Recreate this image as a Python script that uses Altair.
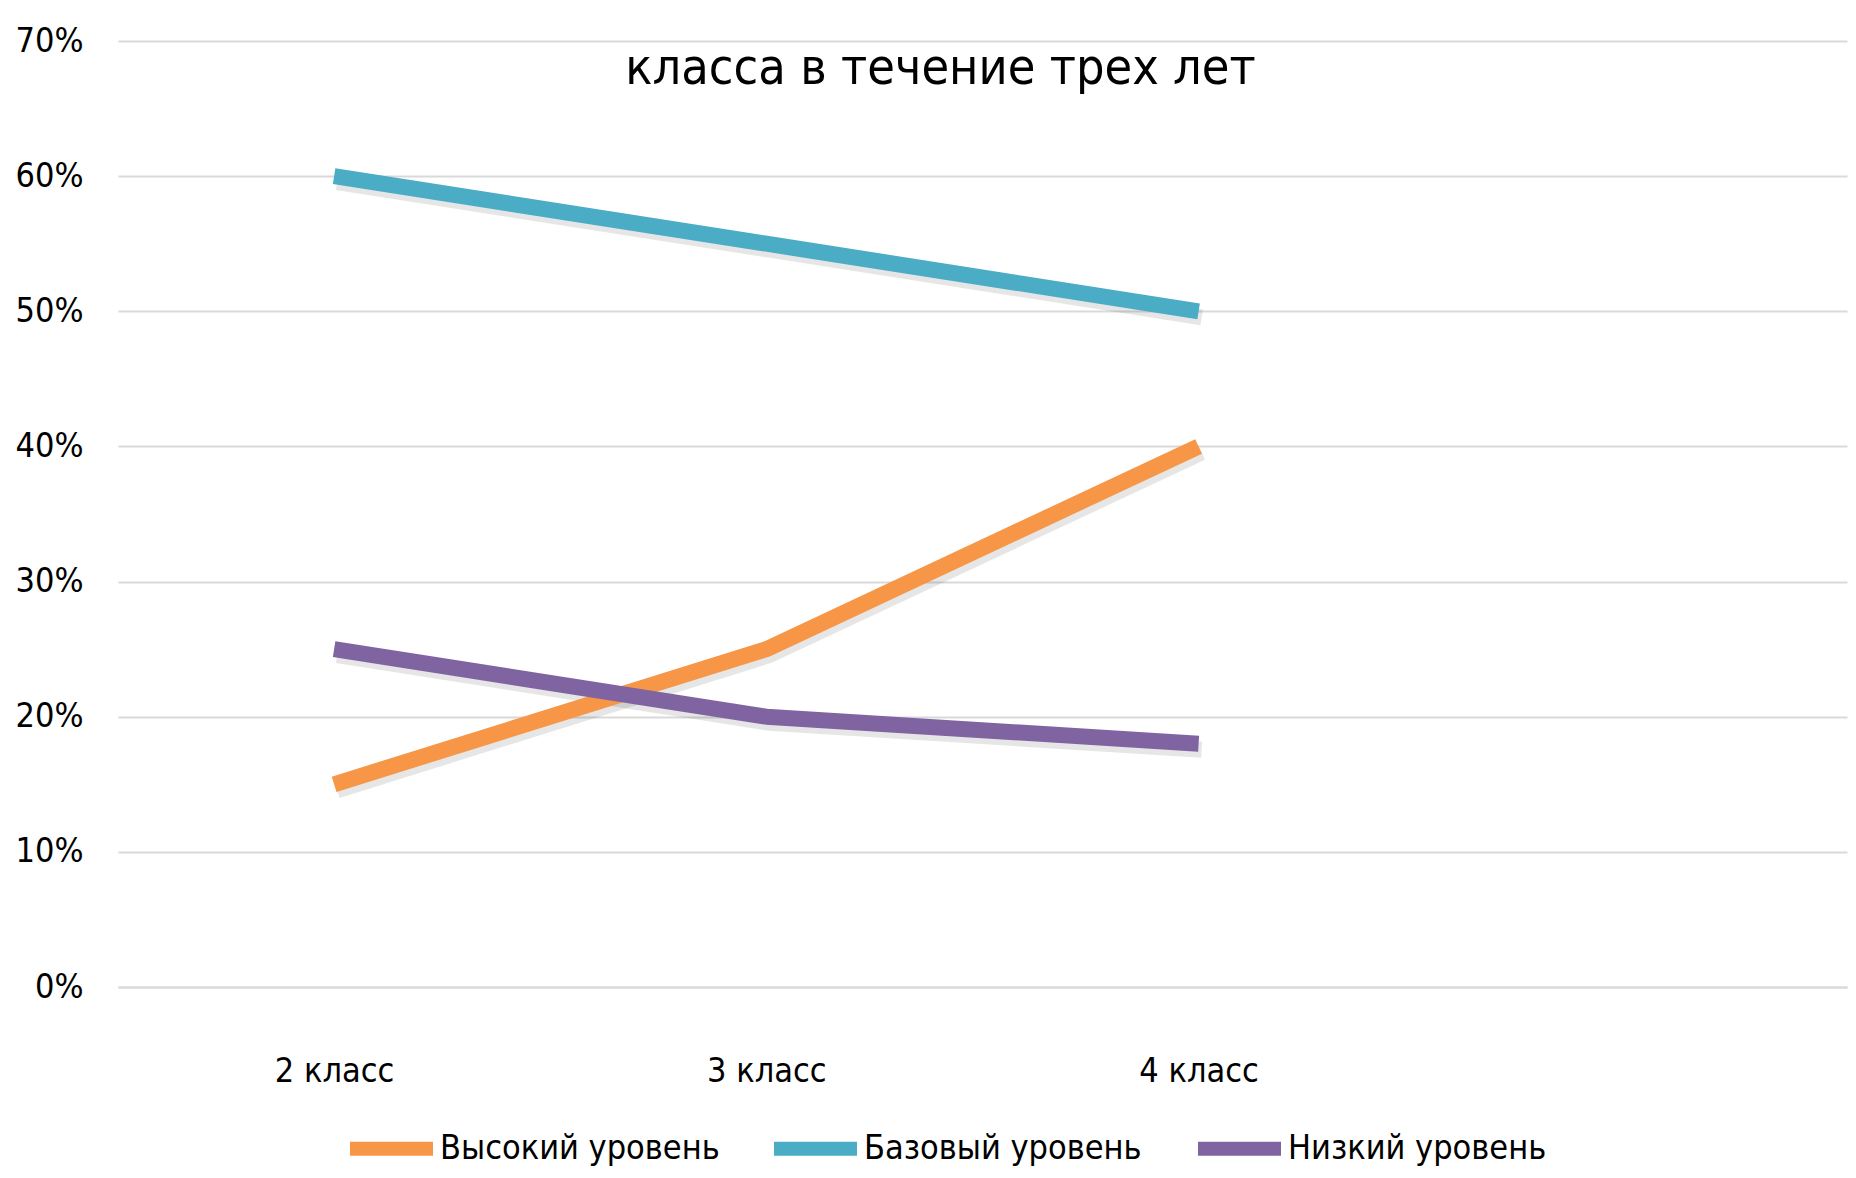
import altair as alt
import pandas as pd

categories = ["2 класс", "3 класс", "4 класс", " "]
series_names = ["Высокий уровень", "Базовый уровень", "Низкий уровень"]
high_values = [0.15, 0.25, 0.40]
base_values = [0.60, 0.55, 0.50]
low_values = [0.25, 0.20, 0.18]
y_ticks = [0, 0.1, 0.2, 0.3, 0.4, 0.5, 0.6, 0.7]
colors = ["#F79646", "#4BACC6", "#8064A2"]
title_text = "класса в течение трех лет"

rows = []
for name, vals in zip(series_names, [high_values, base_values, low_values]):
    for cat, v in zip(categories[:3], vals):
        rows.append({"cat": cat, "series": name, "value": v})
df = pd.DataFrame(rows)

FONT = "DejaVu Sans Condensed, Liberation Sans Narrow, sans-serif"
FS = 34

x_enc = alt.X("cat:N", scale=alt.Scale(domain=categories, paddingInner=0, paddingOuter=0),
              sort=categories,
              axis=alt.Axis(title=None, labelAngle=0, ticks=False, grid=False,
                            domain=True, domainColor="#D9D9D9", domainWidth=2,
                            labelPadding=67, labelFontSize=FS, labelFont=FONT,
                            labelColor="#000000"))
y_enc = alt.Y("value:Q", scale=alt.Scale(domain=[0, 0.7], nice=False),
              axis=alt.Axis(title=None, values=y_ticks, format=".0%", ticks=False,
                            domain=False, grid=True, gridColor="#D9D9D9", gridWidth=2,
                            labelPadding=35, labelFontSize=FS, labelFont=FONT,
                            labelColor="#000000", minExtent=110, maxExtent=110))

shadow = alt.Chart(df).mark_line(strokeWidth=16, color="#555555", opacity=0.15,
                                 xOffset=3, yOffset=6, strokeCap="butt").encode(
    x=x_enc, y=y_enc, detail="series:N")

lines = alt.Chart(df).mark_line(strokeWidth=16, strokeCap="butt", strokeJoin="round").encode(
    x=x_enc, y=y_enc,
    color=alt.Color("series:N", scale=alt.Scale(domain=series_names, range=colors),
                    sort=series_names,
                    legend=alt.Legend(title=None, orient="none", direction="horizontal",
                                      legendX=225, legendY=1059, symbolType="stroke",
                                      symbolSize=6889, symbolStrokeWidth=14,
                                      labelFont=FONT, labelFontSize=FS, labelColor="#000000",
                                      labelOffset=0, columnPadding=26, labelLimit=600,
                                      gridAlign="all", padding=0)))

chart = alt.layer(shadow, lines).properties(
    width=1729, height=946,
    title=alt.TitleParams(title_text, font=FONT, fontSize=50, fontWeight="normal",
                          color="#000000", anchor="middle", baseline="alphabetic",
                          offset=0, dy=110, dx=-42),
    autosize=alt.AutoSizeParams(type="none"),
    padding={"left": 110, "top": 33, "right": 1, "bottom": 179},
).configure_view(stroke=None)

chart.save("out.html", embed_options={"renderer": "svg", "actions": False})
